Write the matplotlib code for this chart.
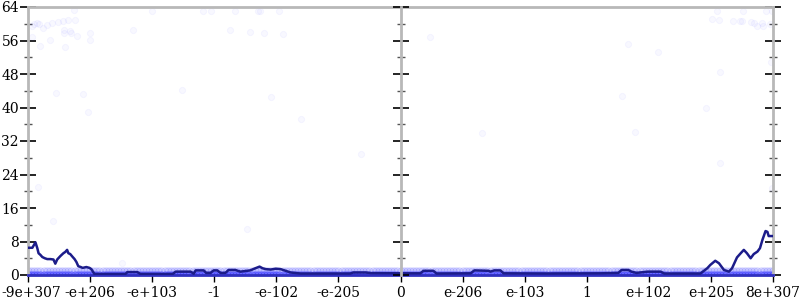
import matplotlib
matplotlib.use("Agg")
import matplotlib.pyplot as plt
from matplotlib.ticker import MultipleLocator, FixedLocator
from matplotlib.transforms import ScaledTranslation

# ---------------- data ----------------
tick_pos = [-6, -5, -4, -3, -2, -1, 0, 1, 2, 3, 4, 5, 6]
tick_labels = ["-9e+307", "-e+206", "-e+103", "-1", "-e-102", "-e-205", "0",
               "e-206", "e-103", "1", "e+102", "e+205", "8e+307"]

# rolling average line (x in ordered-float units, y value)
line_x = [-6.00, -5.93, -5.88, -5.85, -5.83, -5.80, -5.77, -5.73, -5.69, -5.64,
          -5.59, -5.56, -5.53, -5.48, -5.43, -5.40, -5.37, -5.35, -5.32, -5.28,
          -5.25, -5.22, -5.19, -5.15, -5.12, -5.06, -5.01, -4.98, -4.95, -4.93,
          -4.43, -4.40, -4.24, -4.19, -3.67, -3.62, -3.38, -3.33, -3.30, -3.17,
          -3.13, -3.06, -3.01, -2.95, -2.90, -2.82, -2.77, -2.66, -2.58, -2.42,
          -2.34, -2.27, -2.22, -2.17, -2.09, -2.01, -1.93, -1.85, -1.77, -1.61,
          -0.81, -0.76, -0.56, -0.48, 0.00, 0.32, 0.37, 0.53, 0.58, 1.13,
          1.19, 1.42, 1.45, 1.51, 1.61, 1.66, 2.34, 3.22, 3.51, 3.56,
          3.67, 3.72, 3.80, 3.98, 4.19, 4.25, 4.83, 4.94, 4.99, 5.07,
          5.13, 5.21, 5.29, 5.34, 5.42, 5.48, 5.53, 5.58, 5.64, 5.69,
          5.75, 5.79, 5.83, 5.88, 5.91, 5.93, 6.00]
line_y = [6.5, 6.5, 7.8, 6.4, 5.2, 4.8, 4.3, 4.0, 3.8, 3.8,
          3.7, 2.7, 3.7, 4.5, 5.2, 5.5, 6.0, 5.2, 5.0, 4.3,
          3.8, 3.1, 2.1, 1.9, 1.7, 1.9, 1.7, 1.4, 0.7, 0.25,
          0.25, 0.7, 0.7, 0.25, 0.25, 0.8, 0.8, 0.3, 1.1, 1.1,
          0.5, 0.5, 1.1, 1.1, 0.5, 0.5, 1.2, 1.2, 0.8, 1.1,
          1.6, 2.0, 1.6, 1.4, 1.3, 1.5, 1.4, 1.0, 0.6, 0.35,
          0.35, 0.6, 0.6, 0.45, 0.4, 0.4, 1.0, 1.0, 0.35, 0.4,
          1.1, 1.0, 0.8, 1.1, 1.1, 0.4, 0.35, 0.4, 0.5, 1.2,
          1.2, 0.8, 0.5, 0.8, 0.8, 0.35, 0.35, 1.6, 2.4, 3.4,
          2.8, 1.2, 0.8, 1.6, 4.2, 5.2, 6.0, 5.2, 4.0, 5.0,
          5.6, 6.4, 8.4, 10.5, 10.3, 9.3, 9.3]

# dense band of samples at values 0 and 1
band_x = [-6.0, -5.9, -5.8, -5.7, -5.6, -5.5, -5.4, -5.3, -5.2, -5.1,
          -5.0, -4.9, -4.8, -4.7, -4.6, -4.5, -4.4, -4.3, -4.2, -4.1,
          -4.0, -3.9, -3.8, -3.7, -3.6, -3.5, -3.4, -3.3, -3.2, -3.1,
          -3.0, -2.9, -2.8, -2.7, -2.6, -2.5, -2.4, -2.3, -2.2, -2.1,
          -2.0, -1.9, -1.8, -1.7, -1.6, -1.5, -1.4, -1.3, -1.2, -1.1,
          -1.0, -0.9, -0.8, -0.7, -0.6, -0.5, -0.4, -0.3, -0.2, -0.1,
          0.0, 0.1, 0.2, 0.3, 0.4, 0.5, 0.6, 0.7, 0.8, 0.9,
          1.0, 1.1, 1.2, 1.3, 1.4, 1.5, 1.6, 1.7, 1.8, 1.9,
          2.0, 2.1, 2.2, 2.3, 2.4, 2.5, 2.6, 2.7, 2.8, 2.9,
          3.0, 3.1, 3.2, 3.3, 3.4, 3.5, 3.6, 3.7, 3.8, 3.9,
          4.0, 4.1, 4.2, 4.3, 4.4, 4.5, 4.6, 4.7, 4.8, 4.9,
          5.0, 5.1, 5.2, 5.3, 5.4, 5.5, 5.6, 5.7, 5.8, 5.9, 6.0]
band_x2 = [-5.95, -5.85, -5.75, -5.65, -5.55, -5.45, -5.35, -5.25, -5.15, -5.05,
           -4.95, -4.85, -4.75, -4.65, -4.55, -4.45, -4.35, -4.25, -4.15, -4.05,
           -3.95, -3.85, -3.75, -3.65, -3.55, -3.45, -3.35, -3.25, -3.15, -3.05,
           -2.95, -2.85, -2.75, -2.65, -2.55, -2.45, -2.35, -2.25, -2.15, -2.05,
           -1.95, -1.85, -1.75, -1.65, -1.55, -1.45, -1.35, -1.25, -1.15, -1.05,
           -0.95, -0.85, -0.75, -0.65, -0.55, -0.45, -0.35, -0.25, -0.15, -0.05,
           0.05, 0.15, 0.25, 0.35, 0.45, 0.55, 0.65, 0.75, 0.85, 0.95,
           1.05, 1.15, 1.25, 1.35, 1.45, 1.55, 1.65, 1.75, 1.85, 1.95,
           2.05, 2.15, 2.25, 2.35, 2.45, 2.55, 2.65, 2.75, 2.85, 2.95,
           3.05, 3.15, 3.25, 3.35, 3.45, 3.55, 3.65, 3.75, 3.85, 3.95,
           4.05, 4.15, 4.25, 4.35, 4.45, 4.55, 4.65, 4.75, 4.85, 4.95,
           5.05, 5.15, 5.25, 5.35, 5.45, 5.55, 5.65, 5.75, 5.85, 5.95]

# sparse outlier samples
out_x = [-5.94, -5.91, -5.86, -5.83, -5.76, -5.70, -5.62, -5.52, -5.43, -5.35,
         -5.25, -5.26, -5.42, -5.33, -5.42, -5.30, -5.21, -5.94, -5.64, -5.00,
         -5.00, -5.80, -5.41, -4.31, -4.00, -5.55, -5.11, -5.03, -3.52, -5.84,
         -5.59, -4.48, -3.18, -3.05, -2.66, -2.30, -2.26, -1.96, -2.74, -2.43,
         -2.20, -1.90, -2.08, -1.60, -0.63, -2.47, 0.47, 5.09, 5.52, 5.88,
         5.99, 5.02, 5.13, 5.36, 5.47, 5.50, 5.64, 5.70, 5.75, 5.83,
         5.84, 5.95, 3.66, 4.14, 5.14, 5.97, 3.56, 4.92, 3.77, 5.14,
         5.99, 1.32]
out_y = [59.5, 60.0, 60.1, 60.0, 59.1, 59.8, 60.1, 60.4, 60.6, 60.9,
         60.9, 63.4, 58.5, 58.3, 57.7, 57.8, 57.0, 56.9, 56.1, 57.7,
         56.1, 54.7, 54.4, 58.6, 63.0, 43.4, 43.2, 39.0, 44.2, 20.9,
         13.0, 2.8, 63.0, 63.0, 63.0, 63.0, 63.0, 63.0, 58.5, 58.1,
         57.9, 57.5, 42.6, 37.3, 28.8, 11.1, 56.9, 63.0, 63.0, 63.0,
         63.0, 61.1, 61.0, 60.7, 60.7, 60.7, 60.3, 60.1, 59.5, 60.1,
         59.5, 60.0, 55.1, 53.2, 48.5, 50.8, 42.7, 40.0, 34.2, 26.8,
         20.7, 33.9]

# ---------------- plot ----------------
plt.rcParams['font.family'] = ['DejaVu Serif']
fig = plt.figure(figsize=(8, 3), dpi=100)
pos = [28 / 800, 25 / 300, 745 / 800, 268 / 300]
ax = fig.add_axes(pos)

pt_col = '#3a3aff'
ax.scatter(band_x, [1] * len(band_x), s=30, color=pt_col, alpha=0.14, lw=0.6, zorder=2)
ax.scatter(band_x2, [1] * len(band_x2), s=30, color=pt_col, alpha=0.14, lw=0.6, zorder=2)
ax.scatter(band_x, [0] * len(band_x), s=30, color=pt_col, alpha=0.38, lw=0.6, zorder=2)
ax.scatter(band_x2, [0] * len(band_x2), s=30, color=pt_col, alpha=0.38, lw=0.6, zorder=2)
ax.scatter(out_x, out_y, s=20, facecolor=pt_col, edgecolor=pt_col, alpha=0.035, lw=0.8, zorder=2)

ax.plot(line_x, line_y, color='#1c1c8a', lw=1.8, zorder=3, solid_joinstyle='round')

ax.set_xlim(-6, 6)
ax.set_ylim(0, 64)

spine_col = '#b8b8b8'
for s in ['left', 'right', 'top', 'bottom']:
    ax.spines[s].set_color(spine_col)
    ax.spines[s].set_linewidth(2)
ax.spines['bottom'].set_color('#3030c0')

ax.xaxis.set_major_locator(FixedLocator(tick_pos))
ax.set_xticklabels(tick_labels, fontsize=10)
ax.tick_params(axis='x', direction='out', length=5, width=1, color='black', pad=3)
first = ax.get_xticklabels()[0]
first.set_transform(first.get_transform() + ScaledTranslation(2.5 / 72, 0, fig.dpi_scale_trans))

ax.yaxis.set_major_locator(MultipleLocator(8))
ax.yaxis.set_minor_locator(MultipleLocator(4))
ax.tick_params(axis='y', which='major', direction='inout', length=11, width=1.2,
               color='black', right=True, labelsize=10, pad=1)
ax.tick_params(axis='y', which='minor', direction='inout', length=6, width=1,
               color='#555555', right=True)

# centre axis at value 0
axc = fig.add_axes(pos, sharey=ax)
axc.set_xlim(-6, 6)
axc.patch.set_visible(False)
for s in ['right', 'top', 'bottom']:
    axc.spines[s].set_visible(False)
axc.spines['left'].set_position(('data', 0))
axc.spines['left'].set_color(spine_col)
axc.spines['left'].set_linewidth(2)
axc.set_xticks([])
axc.tick_params(axis='y', which='major', direction='inout', length=11, width=1.2,
                color='black', labelleft=False)
axc.tick_params(axis='y', which='minor', direction='inout', length=6, width=1,
                color='#555555', labelleft=False)

fig.savefig('out.png', dpi=100)
